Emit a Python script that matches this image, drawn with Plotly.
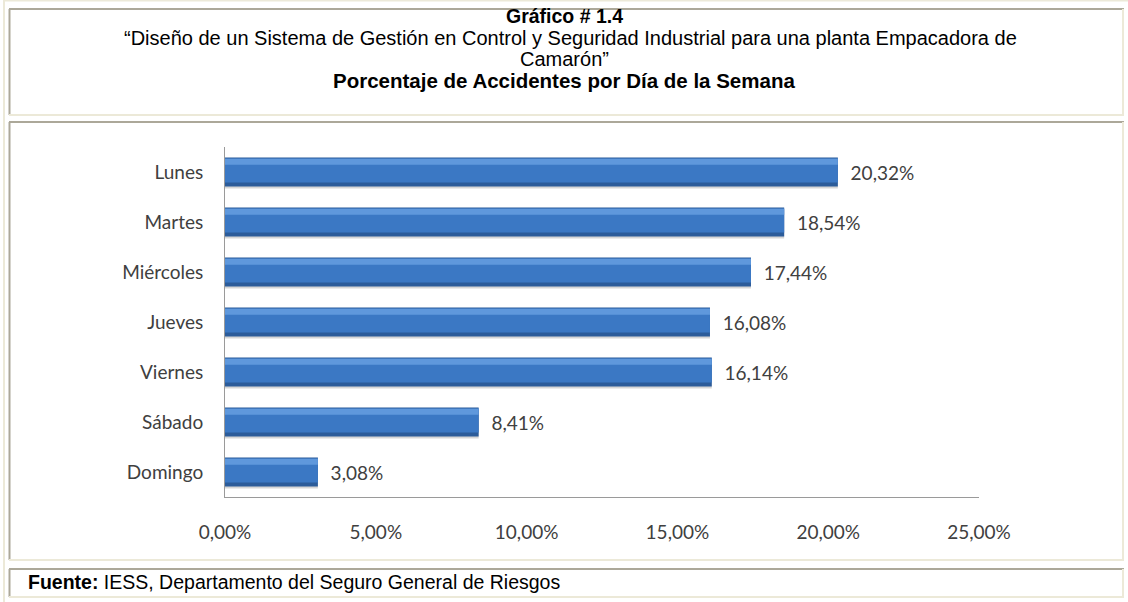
import plotly.graph_objects as go

# ---- data ----
dias = ["Lunes", "Martes", "Miércoles", "Jueves", "Viernes", "Sábado", "Domingo"]
porcentajes = [20.32, 18.54, 17.44, 16.08, 16.14, 8.41, 3.08]
x_ticks = [0, 5, 10, 15, 20, 25]
x_ticktext = [("%.2f%%" % v).replace(".", ",") for v in x_ticks]

titulo1 = "Gráfico # 1.4"
titulo2 = "“Diseño de un Sistema de Gestión en Control y Seguridad Industrial para una planta Empacadora de"
titulo3 = "Camarón”"
titulo4 = "Porcentaje de Accidentes por Día de la Semana"
fuente_b = "Fuente:"
fuente_t = " IESS, Departamento del Seguro General de Riesgos"

W, H = 1128, 602
def px(x):
    return x / W
def py(y):
    return 1 - y / H

CHART_FONT = "Lato"
TXT = "#404040"

fig = go.Figure()

# shadow
fig.add_trace(go.Bar(y=dias, x=porcentajes, orientation="h", width=0.58, offset=-0.25,
                     marker=dict(color="rgba(0,0,0,0.16)", line=dict(width=0)),
                     hoverinfo="skip", showlegend=False))
# dark body + labels
fig.add_trace(go.Bar(y=dias, x=porcentajes, orientation="h", width=0.58, offset=-0.29,
                     marker=dict(color="#2c5c9a", line=dict(width=0)),
                     texttemplate="\u00a0\u00a0%{x:.2f}%", textposition="outside",
                     textfont=dict(family=CHART_FONT, size=19, color=TXT),
                     cliponaxis=False, showlegend=False))
# main body
fig.add_trace(go.Bar(y=dias, x=porcentajes, orientation="h", width=0.48, offset=-0.27,
                     marker=dict(color="#3b78c4", line=dict(width=0)),
                     hoverinfo="skip", showlegend=False))
# highlight band
fig.add_trace(go.Bar(y=dias, x=porcentajes, orientation="h", width=0.12, offset=-0.265,
                     marker=dict(color="#5f98dc", line=dict(width=0)),
                     hoverinfo="skip", showlegend=False))

shapes = []
CREAM = "#ece9d8"
DARK = "#aca899"
def line(x0, y0, x1, y1, color, w=2):
    shapes.append(dict(type="line", xref="paper", yref="paper",
                       x0=px(x0), y0=py(y0), x1=px(x1), y1=py(y1),
                       line=dict(color=color, width=w), layer="above"))

# outer frame
line(4, 0, 4, 602, CREAM)
line(4, 0.5, 1128, 0.5, CREAM)
for (top, bot) in [(9, 115), (122, 560), (569, 597)]:
    line(9, top, 1124, top, DARK)
    line(9.5, top, 9.5, bot, DARK)
    line(9, bot, 1124, bot, CREAM)
    line(1123, top, 1123, bot, CREAM)

annotations = []
def txt(text, x, y, size, bold=False, xanchor="center"):
    annotations.append(dict(text=("<b>%s</b>" % text) if bold else text,
                            x=px(x), y=py(y), xref="paper", yref="paper",
                            xanchor=xanchor, yanchor="middle", showarrow=False,
                            font=dict(family="Liberation Sans", size=size, color="#000000")))

txt(titulo1, 564, 16.5, 19.5, bold=True)
txt(titulo2, 570, 37.5, 20)
txt(titulo3, 564, 58.5, 20)
txt(titulo4, 564, 80.5, 20.5, bold=True)
annotations.append(dict(text="<b>%s</b>%s" % (fuente_b, fuente_t), x=px(26), y=py(582),
                        xref="paper", yref="paper", xanchor="left", yanchor="middle",
                        showarrow=False,
                        font=dict(family="Liberation Sans", size=19.5, color="#000000")))

fig.update_layout(
    template="none",
    width=W, height=H, autosize=False,
    margin=dict(l=0, r=0, t=0, b=0, pad=0, autoexpand=False),
    paper_bgcolor="white", plot_bgcolor="white",
    barmode="overlay",
    separators=",.",
    shapes=shapes, annotations=annotations,
    showlegend=False,
    xaxis=dict(domain=[px(225), px(979)], range=[0, 25], tickvals=x_ticks,
               ticktext=x_ticktext, showgrid=False, zeroline=False, automargin=False,
               showline=True, linecolor="#9a9a9a", linewidth=1, ticks="",
               ticklabelstandoff=18,
               tickfont=dict(family=CHART_FONT, size=19, color=TXT), fixedrange=True),
    yaxis=dict(domain=[py(497), py(147)], autorange="reversed", showgrid=False,
               zeroline=False, automargin=False,
               showline=True, linecolor="#9a9a9a", linewidth=1, ticks="",
               ticklabelstandoff=17,
               tickfont=dict(family=CHART_FONT, size=19, color=TXT), fixedrange=True),
)

fig.write_html("out.html", config={"displayModeBar": False},
               post_script="document.body.style.margin='0';document.body.style.overflow='hidden';")
